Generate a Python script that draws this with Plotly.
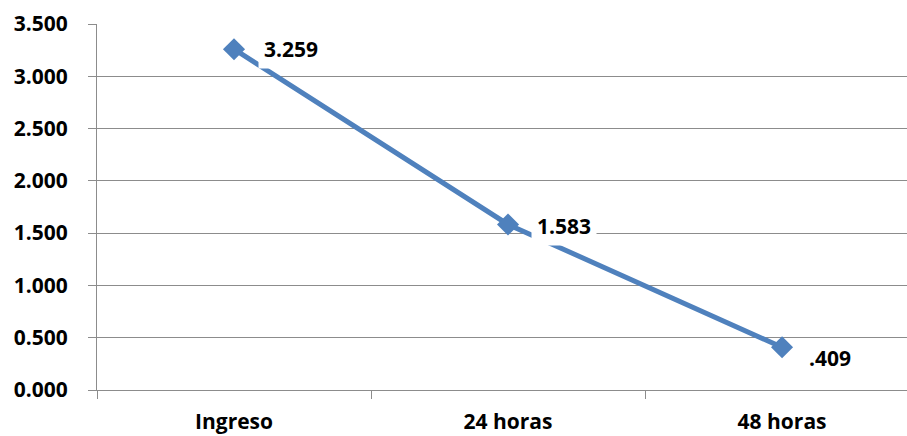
import plotly.graph_objects as go

# Data
categories = ["Ingreso", "24 horas", "48 horas"]
values = [3.259, 1.583, 0.409]
y_ticks = [0, 0.5, 1.0, 1.5, 2.0, 2.5, 3.0, 3.5]

line_color = "#4F81BD"
grid_color = "#8C8C8C"
font_family = "Open Sans, Liberation Sans, Arial, sans-serif"
font_size = 21

def fmt(v):
    # three decimals, leading zero dropped (e.g. .409)
    s = f"{v:.3f}"
    return s[1:] if s.startswith("0") else s

fig = go.Figure()
fig.add_trace(go.Scatter(
    x=categories,
    y=values,
    mode="lines+markers",
    line=dict(color=line_color, width=5),
    marker=dict(symbol="diamond", size=17, color=line_color),
    hoverinfo="skip",
    showlegend=False,
))

# value labels with white boxes to the right of each point
label_offsets = [(57, 0), (56, -2), (48, -11)]
for cat, v, (dx, dy) in zip(categories, values, label_offsets):
    fig.add_annotation(
        x=cat, y=v, text=f"<b>{fmt(v)}</b>",
        showarrow=False, xshift=dx, yshift=dy,
        bgcolor="white", borderpad=5,
        font=dict(family=font_family, size=font_size, color="black"),
    )

fig.update_layout(
    width=907, height=436,
    margin=dict(l=97, r=0, t=24, b=46),
    paper_bgcolor="white", plot_bgcolor="white",
    font=dict(family=font_family, color="black"),
)
fig.update_xaxes(
    type="category",
    range=[-0.5, 2.456],
    tickson="boundaries",
    ticks="outside", ticklen=8, tickcolor=grid_color,
    showline=True, linecolor=grid_color, linewidth=1,
    showgrid=False,
    ticklabelstandoff=13,
    tickfont=dict(family=font_family, size=font_size),
    tickvals=categories,
    ticktext=[f"<b>{c}</b>" for c in categories],
)
fig.update_yaxes(
    range=[0, 3.5],
    tickvals=y_ticks,
    ticktext=[f"<b>{t:.3f}</b>" for t in y_ticks],
    ticks="outside", ticklen=8, tickcolor=grid_color,
    showline=True, linecolor=grid_color, linewidth=1,
    showgrid=True, gridcolor=grid_color, gridwidth=1,
    zeroline=False,
    ticklabelstandoff=16,
    tickfont=dict(family=font_family, size=font_size),
)

fig.write_html("out.html")
